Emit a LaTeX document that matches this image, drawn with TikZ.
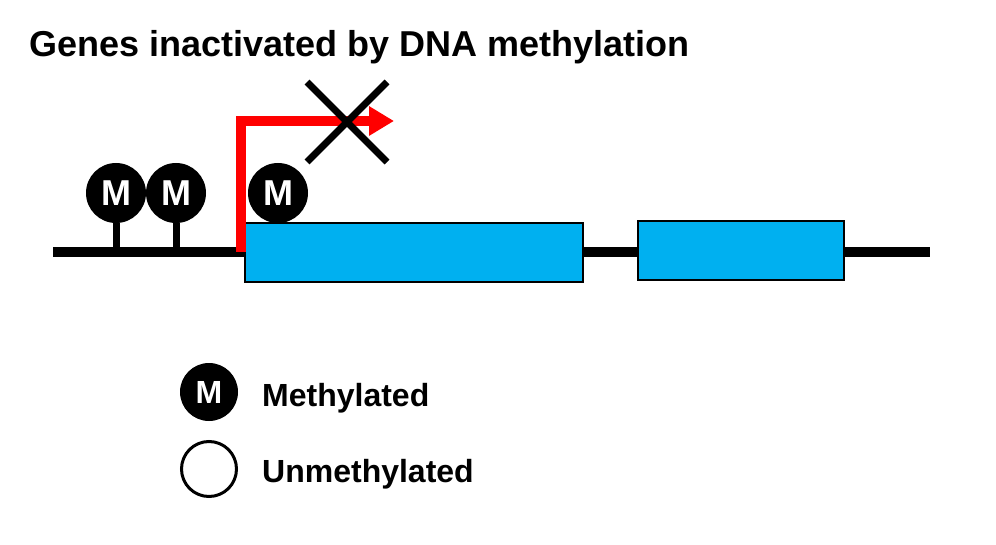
\documentclass[tikz,border=0pt]{standalone}
\usepackage{fontspec}
\setmainfont{Liberation Sans}
\usepackage{xcolor}
\definecolor{exon-blue}{HTML}{00B0F0}
\definecolor{tss-red}{HTML}{FF0000}
\usetikzlibrary{arrows.meta, positioning, calc}

\begin{document}
\begin{tikzpicture}[
            x=1pt, y=-1pt,
            every node/.style={font=\bfseries},
            titletext/.style={anchor=base west, inner sep=0pt, font=\bfseries\fontsize{36}{42}\selectfont},
            legendtext/.style={anchor=base west, inner sep=0pt, font=\bfseries\fontsize{32}{38}\selectfont},
            exonbox/.style={rectangle, draw=black, line width=2pt, fill=exon-blue, inner sep=0pt},
            methyl/.style={circle, fill=black, minimum size=60pt, inner sep=0pt, text=white, font=\bfseries\fontsize{36}{40}\selectfont},
            unmethyl/.style={circle, draw=black, line width=3pt, fill=white, minimum size=55pt, inner sep=0pt},
            backbone/.style={line width=10pt},
            stem/.style={line width=7pt},
            arrow/.style={-{Triangle[length=25pt, width=28pt]}, line width=10pt, tss-red},
            blocked/.style={line width=7pt}
        ]

        \useasboundingbox (0,0) rectangle (996,545);

        % --- 1. TITLE ---
        \node[titletext] (title) at (29,57) {Genes inactivated by DNA methylation};

        % --- 2. GENE ---
        \coordinate (dnaL) at (53,252);
        \coordinate (dnaR) at (930,252);
        \draw[backbone] (dnaL) -- (dnaR);

        \node[exonbox, minimum width=338pt, minimum height=59pt, anchor=north west] (exon1) at (244,222) {};
        \node[exonbox, minimum width=206pt, minimum height=59pt, anchor=north west] (exon2) at (637,220) {};

        % --- 3. METHYLATION SITES ---
        \node[methyl] (m1) at (116,193) {M};
        \node[methyl] (m2) at (176,193) {M};
        \node[methyl] (m3) at (278,193) {M};

        \draw[stem] (m1.south) -- (m1.south |- dnaL);
        \draw[stem] (m2.south) -- (m2.south |- dnaL);

        % --- 4. BLOCKED TRANSCRIPTION ---
        \coordinate (tss) at (241,252);
        \coordinate (tip) at (394,121);
        \draw[arrow] (tss) |- (tip);

        \coordinate (cross) at (347,122);
        \draw[blocked] ($(cross)+(-40,-40)$) -- ($(cross)+(40,40)$);
        \draw[blocked] ($(cross)+(-40,40)$) -- ($(cross)+(40,-40)$);

        % --- 5. LEGEND ---
        \node[methyl, minimum size=58pt, font=\bfseries\fontsize{32}{36}\selectfont] (lm) at (209,392) {M};
        \node[legendtext] (lmtext) at (262,406) {Methylated};

        \node[unmethyl] (lu) at (209,469) {};
        \node[legendtext] (lutext) at (262,482) {Unmethylated};

        \end{tikzpicture}
\end{document}
